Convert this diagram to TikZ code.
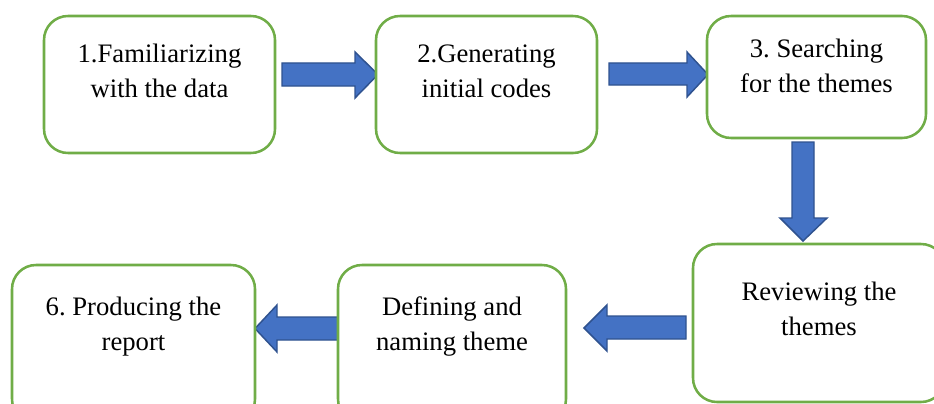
\documentclass[tikz,border=0pt]{standalone}
\usepackage{fontspec}
\setmainfont{Liberation Serif}
\definecolor{boxgreen}{HTML}{70AD47}
\definecolor{arrowblue}{HTML}{4472C4}
\definecolor{arrowedge}{HTML}{2F528F}
\newcommand{\mylines}[2]{\begin{tabular}[t]{@{}c@{}}#1\\#2\end{tabular}}
\frenchspacing
\begin{document}
\begin{tikzpicture}[x=0.75pt,y=-0.75pt,
  stepbox/.style={draw=boxgreen, line width=1.9pt, fill=white, rounded corners=18pt, inner sep=0pt},
  steptext/.style={anchor=base, inner sep=0pt, font=\fontsize{20}{26.25}\selectfont\frenchspacing},
  blockarrow/.style={fill=arrowblue, draw=arrowedge, line width=1.1pt, line join=miter}]
\useasboundingbox (0,0) rectangle (934,403);
\clip (0,0) rectangle (934,403);
% arrows
\draw[blockarrow] (282,63) -- (355,63) -- (355,52) -- (378,74.5) -- (355,98) -- (355,86) -- (282,86) -- cycle;
\draw[blockarrow] (609,63) -- (687,63) -- (687,52) -- (708,74.5) -- (687,97) -- (687,85) -- (609,85) -- cycle;
\draw[blockarrow] (792,142) -- (792,218) -- (780,218) -- (803,241) -- (827,218) -- (814,218) -- (814,142) -- cycle;
\draw[blockarrow] (686,316) -- (607,316) -- (607,305) -- (584,328) -- (607,351) -- (607,339) -- (686,339) -- cycle;
\draw[blockarrow] (340,317) -- (277,317) -- (277,305) -- (255,328.5) -- (277,352) -- (277,340) -- (340,340) -- cycle;
% boxes
\node[stepbox, minimum width=173.25pt, minimum height=102.75pt] (b1) at (159.5,84.5) {};
\node[stepbox, minimum width=165.75pt, minimum height=102.75pt] (b2) at (486.5,84.5) {};
\node[stepbox, minimum width=164.25pt, minimum height=91.5pt] (b3) at (816.5,77) {};
\node[stepbox, minimum width=189pt, minimum height=118.5pt] (b4) at (819,323) {};
\node[stepbox, minimum width=171pt, minimum height=118.5pt] (b5) at (452,344) {};
\node[stepbox, minimum width=182.25pt, minimum height=118.5pt] (b6) at (133.5,344) {};
% texts
\node[steptext] (t1) at (159.5,63) {\mylines{1.Familiarizing}{with the data}};
\node[steptext] (t2) at (486.5,63) {\mylines{2.Generating}{initial codes}};
\node[steptext] (t3) at (816.5,58) {\mylines{3. Searching}{for the themes}};
\node[steptext] (t4) at (819,300) {\mylines{Reviewing the}{themes}};
\node[steptext] (t5) at (452,315) {\mylines{Defining and}{naming theme}};
\node[steptext] (t6) at (133.5,315) {\mylines{6. Producing the}{report}};
\end{tikzpicture}
\end{document}
